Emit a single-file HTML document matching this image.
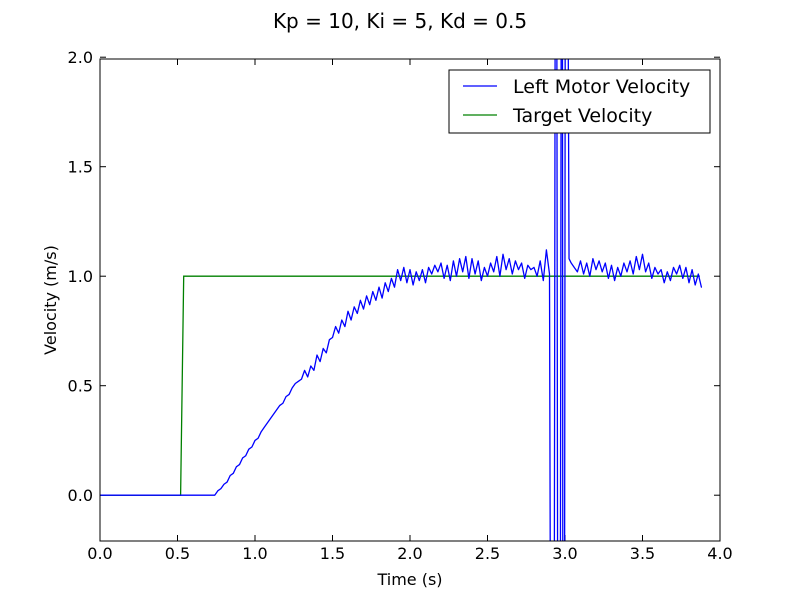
<!DOCTYPE html>
<html><head><meta charset="utf-8"><style>
html,body{margin:0;padding:0;background:#fff;overflow:hidden;width:800px;height:600px;}
svg{display:block;overflow:hidden;position:absolute;left:0;top:0;}
svg text{font-family:"DejaVu Sans","Liberation Sans",sans-serif;}
</style></head><body>
<svg id="chart" width="800" height="600" viewBox="0 0 800 600" xmlns="http://www.w3.org/2000/svg">
<rect width="800" height="600" fill="#fff"/>
<text x="400" y="28" font-size="20" text-anchor="middle">Kp = 10, Ki = 5, Kd = 0.5</text>
<defs><clipPath id="clip"><rect x="100" y="59" width="620" height="482"/></clipPath></defs>
<g id="ticks"></g>
<g id="series" clip-path="url(#clip)"></g>
<rect x="100" y="59" width="620" height="482" fill="none" stroke="#000" stroke-width="1"/>
<text x="410" y="585" font-size="16" text-anchor="middle">Time (s)</text>
<text x="56" y="300" font-size="16" text-anchor="middle" transform="rotate(-90 56 300)">Velocity (m/s)</text>
<g>
<rect x="449" y="70" width="261" height="63" fill="#fff" stroke="#000" stroke-width="1"/>
<line x1="463" y1="86" x2="497" y2="86" stroke="#0000ff" stroke-width="1.3"/>
<text x="513" y="93" font-size="19">Left Motor Velocity</text>
<line x1="463" y1="115" x2="497" y2="115" stroke="#008000" stroke-width="1.3"/>
<text x="513" y="122" font-size="19">Target Velocity</text>
</g>
</svg>
<script>
const xTicks=[0,0.5,1,1.5,2,2.5,3,3.5,4];
const xTickLabels=["0.0","0.5","1.0","1.5","2.0","2.5","3.0","3.5","4.0"];
const yTicks=[0,0.5,1,1.5,2];
const yTickLabels=["0.0","0.5","1.0","1.5","2.0"];
const targetT=[0,0.52,0.54,3.87];
const targetV=[0,0,1,1];
const leftT=[0,0.72];
const leftV=[0,0];
const seg1Start=0.74, seg1Vals=[0,0.02,0.03,0.05,0.06,0.09,0.10,0.13,0.14,0.17,0.18,0.21,0.22,0.25,0.26,0.29,0.31,0.33,0.35,0.37,0.39,0.41,0.42,0.45,0.46,0.49,0.51,0.52,0.53,
0.57,0.54,0.59,0.57,0.64,0.61,0.67,0.65,0.71,0.72,0.77,0.74,0.80,0.77,0.84,0.80,0.86,0.83,0.89,0.85,0.91,0.87,0.93,0.89,0.95,0.90,0.97,0.93,0.99,0.95,1.03,0.98,1.04,0.97,1.03,
0.96,1.02,0.98,1.03,0.97,1.04,1.01,1.05,1.02,1.06,0.99,1.05,0.98,1.07,1.00,1.08,1.02,1.09,0.99,1.08,1.01,1.07,0.98,1.04,1.00,1.06,1.02,1.09,1.00,1.10,1.03,1.08,1.01,1.07,1.03,1.06,0.99,1.05,1.03,1.04,1.00,1.07,0.98,1.12,1.01];
const spikeT=[2.922,2.942,2.961,2.981,2.99,3.006,3.026];
const spikeV=[-5,5,-5,5,-5,5,1.08];
const seg2Start=3.04, seg2Vals=[1.06,1.04,1.02,1.07,1.01,1.06,1.00,1.08,1.03,1.07,1.02,1.06,0.99,1.05,0.98,1.04,1.00,1.06,1.02,1.07,1.01,1.09,1.03,1.10,1.02,1.06,0.99,1.04,1.01,1.03,0.97,1.02,0.98,1.04,1.01,1.05,0.99,1.04,0.97,1.03,0.96,1.01,0.95];
const step=0.02;

const X=t=>100+t*155, Y=v=>495.2-v*219;
const NS="http://www.w3.org/2000/svg";
const tg=document.getElementById('ticks'), sg=document.getElementById('series');
function mk(tag,attrs,parent){const e=document.createElementNS(NS,tag);for(const k in attrs)e.setAttribute(k,attrs[k]);parent.appendChild(e);return e;}
xTicks.forEach((t,i)=>{
 const a=mk('line',{x1:X(t),x2:X(t),y1:541,y2:535,stroke:'#000'},tg);
 
 
 const b=mk('line',{x1:X(t),x2:X(t),y1:59,y2:65,stroke:'#000'},tg);
 
 
 const l=mk('text',{x:X(t),y:559,'font-size':16,'text-anchor':'middle'},tg);
 l.textContent=xTickLabels[i];
 
 
});
yTicks.forEach((v,i)=>{
 const a=mk('line',{x1:100,x2:106,y1:Y(v),y2:Y(v),stroke:'#000'},tg);
 
 
 const b=mk('line',{x1:714,x2:720,y1:Y(v),y2:Y(v),stroke:'#000'},tg);
 
 
 const l=mk('text',{x:93,y:Y(v)+6,'font-size':16,'text-anchor':'end'},tg);
 l.textContent=yTickLabels[i];
 
 
});
const tp=targetT.map((t,i)=>X(t)+','+Y(targetV[i])).join(' ');
const g=mk('polyline',{points:tp,fill:'none',stroke:'#008000','stroke-width':1.3},sg);


let pts=[];
leftT.forEach((t,i)=>pts.push([t,leftV[i]]));
seg1Vals.forEach((v,i)=>pts.push([seg1Start+i*step,v]));
spikeT.forEach((t,i)=>pts.push([t,spikeV[i]]));
seg2Vals.forEach((v,i)=>pts.push([seg2Start+i*step,v]));
// clip each segment to y range [YMIN,YMAX] so nothing extends outside the frame
const YMIN=50, YMAX=550;
let d='';
for(let i=0;i<pts.length-1;i++){
 let x1=X(pts[i][0]),y1=Y(pts[i][1]),x2=X(pts[i+1][0]),y2=Y(pts[i+1][1]);
 let t0=0,t1=1;const dy=y2-y1;
 if(dy!==0){
  let ta=(YMIN-y1)/dy,tb=(YMAX-y1)/dy;
  t0=Math.max(t0,Math.min(ta,tb));t1=Math.min(t1,Math.max(ta,tb));
 } else if(y1<YMIN||y1>YMAX) continue;
 if(t0>t1) continue;
 const ax=x1+(x2-x1)*t0,ay=y1+dy*t0,bx=x1+(x2-x1)*t1,by=y1+dy*t1;
 d+='M'+ax.toFixed(2)+' '+ay.toFixed(2)+'L'+bx.toFixed(2)+' '+by.toFixed(2);
}
const b=mk('path',{d:d,fill:'none',stroke:'#0000ff','stroke-width':1.3,'stroke-linejoin':'round','stroke-linecap':'round'},sg);


</script>
</body></html>
